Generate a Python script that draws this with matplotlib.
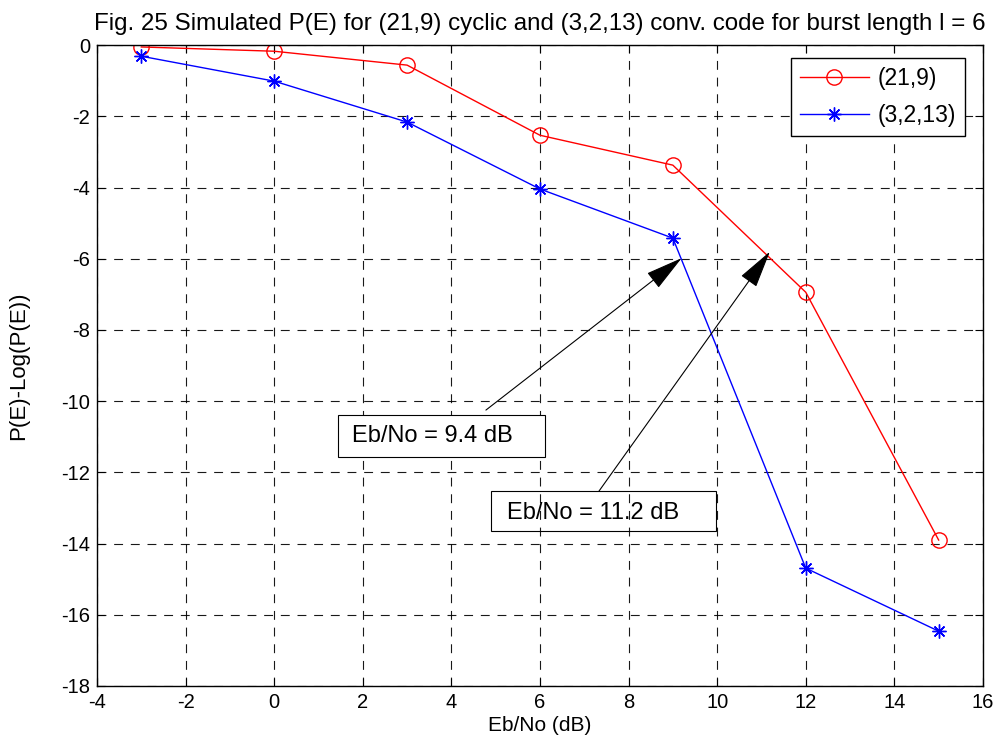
import matplotlib
matplotlib.use('Agg')
import matplotlib.pyplot as plt
from matplotlib.patches import Rectangle

# --- Data ---
ebno = [-3, 0, 3, 6, 9, 12, 15]
pe_cyclic = [-0.05, -0.17, -0.56, -2.53, -3.37, -6.94, -13.9]
pe_conv = [-0.31, -1.01, -2.16, -4.04, -5.42, -14.69, -16.46]

xticks = list(range(-4, 17, 2))
yticks = list(range(-18, 1, 2))

title = 'Fig. 25 Simulated P(E) for (21,9) cyclic and (3,2,13) conv. code for burst length l = 6'

plt.rcParams['font.family'] = ['Liberation Sans', 'DejaVu Sans']
plt.rcParams['axes.unicode_minus'] = False

fig = plt.figure(figsize=(10.03, 7.53), dpi=100)
ax = fig.add_axes([0.0967, 0.089, 0.8833, 0.851])

ax.plot(ebno, pe_cyclic, color='red', lw=1, marker='o', ms=11,
        mfc='none', mec='red', mew=1, label='(21,9)')
ax.plot(ebno, pe_conv, color='blue', lw=1, marker=(8, 2, 0), ms=10,
        mec='blue', mew=1, label='(3,2,13)')

ax.set_xlim(-4, 16)
ax.set_ylim(-18, 0)
ax.set_xticks(xticks)
ax.set_yticks(yticks)
ax.tick_params(direction='in', top=True, right=True, length=6, width=0.8,
               labelsize=14.5, pad=5)
ax.grid(True, color='black', linestyle=(0, (8, 7)), linewidth=0.8, alpha=0.9)
for s in ax.spines.values():
    s.set_linewidth(1)

ax.set_title(title, fontsize=17.4, pad=11)
ax.set_xlabel('Eb/No (dB)', fontsize=15, labelpad=3)
ax.set_ylabel('P(E)-Log(P(E))', fontsize=16)
ax.yaxis.set_label_coords(-0.077, 0.5)

leg = ax.legend(loc='upper right', bbox_to_anchor=(0.98, 0.98), fontsize=16.5,
                fancybox=False, edgecolor='black', framealpha=1,
                handlelength=3.0, borderaxespad=0, borderpad=0.4,
                handletextpad=0.4, labelspacing=0.6)
leg.get_frame().set_linewidth(1)

# --- Annotations ---
arrow = dict(arrowstyle='-|>,head_length=1.6,head_width=0.4', color='black',
             lw=0.8, mutation_scale=15, shrinkA=0, shrinkB=0)
ax.annotate('', xy=(9.2, -5.98), xytext=(4.78, -10.25), arrowprops=arrow)
ax.annotate('', xy=(11.19, -5.8), xytext=(7.33, -12.53), arrowprops=arrow)

ax.add_patch(Rectangle((1.44, -11.57), 6.11 - 1.44, 11.57 - 10.39,
                       fill=True, fc='white', ec='black', lw=0.8, zorder=3))
ax.add_patch(Rectangle((4.89, -13.65), 9.97 - 4.89, 13.65 - 12.53,
                       fill=False, ec='black', lw=0.8, zorder=3))
ax.text(1.76, -10.98, 'Eb/No = 9.4 dB', fontsize=17, va='center', ha='left', zorder=4)
ax.text(5.26, -13.15, 'Eb/No = 11.2 dB', fontsize=17, va='center', ha='left', zorder=4)

fig.savefig('out.png', dpi=100)
